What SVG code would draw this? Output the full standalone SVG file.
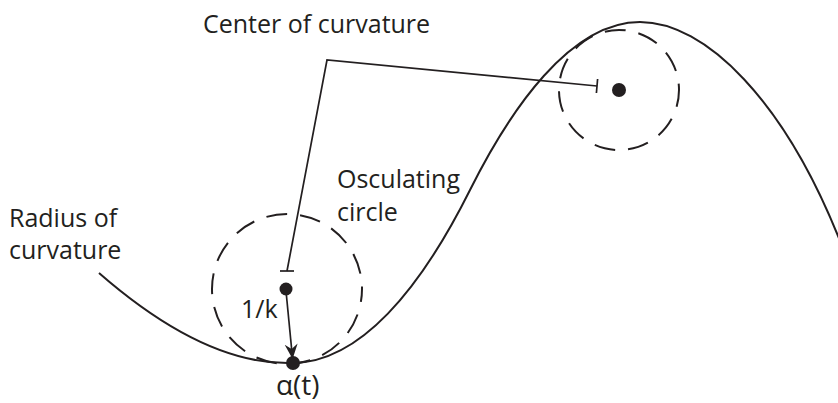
<svg xmlns="http://www.w3.org/2000/svg" width="838" height="403" viewBox="0 0 838 403">
  <style>
    .lbl { font-family: "Open Sans", "Liberation Sans", sans-serif; font-size: 25px; fill: #231f20; }
    .curve { fill: none; stroke: #231f20; stroke-width: 2; }
    .dash { fill: none; stroke: #231f20; stroke-width: 2; stroke-dasharray: 21 13; }
    .lead { fill: none; stroke: #231f20; stroke-width: 1.7; }
    .dot { fill: #231f20; }
  </style>
  <defs>
    <marker id="arrow" viewBox="-15 -7 17 14" refX="0" refY="0" markerWidth="17" markerHeight="14" markerUnits="userSpaceOnUse" orient="auto">
      <path d="M0,0 L-15,-6.5 L-10,0 L-15,6.5 Z" fill="#231f20"/>
    </marker>
  </defs>

  <g id="curve">
    <path class="curve" d="M99,273 C170,335 235,365 293,363 C360,362 420,290 470,190 C510,110 570,22 640,22 C705,22 785,100 842,246"/>
  </g>

  <g id="osculating-circle">
    <circle class="dash" cx="287" cy="289" r="75" stroke-dashoffset="8"/>
    <circle class="dot" cx="286" cy="289" r="6.5"/>
  </g>

  <g id="upper-circle">
    <circle class="dash" cx="619" cy="90" r="60" stroke-dasharray="23 24" stroke-dashoffset="4"/>
    <circle class="dot" cx="619" cy="90" r="7"/>
  </g>

  <g id="point-alpha">
    <circle class="dot" cx="293" cy="363" r="7"/>
  </g>

  <g id="connectors">
    <polyline class="lead" points="287,271 327,60 597,86"/>
    <line class="lead" x1="280" y1="271" x2="294" y2="271"/>
    <line class="lead" x1="597.6" y1="79" x2="596.4" y2="93"/>
    <line class="lead" x1="286" y1="291" x2="292.6" y2="359" marker-end="url(#arrow)"/>
  </g>

  <g id="labels">
    <text class="lbl" x="203" y="33">Center of curvature</text>
    <text class="lbl" x="9" y="227">Radius of</text>
    <text class="lbl" x="9" y="259">curvature</text>
    <text class="lbl" x="337" y="188">Osculating</text>
    <text class="lbl" x="337" y="221">circle</text>
    <text class="lbl" x="241" y="318">1/k</text>
    <text class="lbl" x="276" y="395" style="font-size:28px">α(t)</text>
  </g>
</svg>
